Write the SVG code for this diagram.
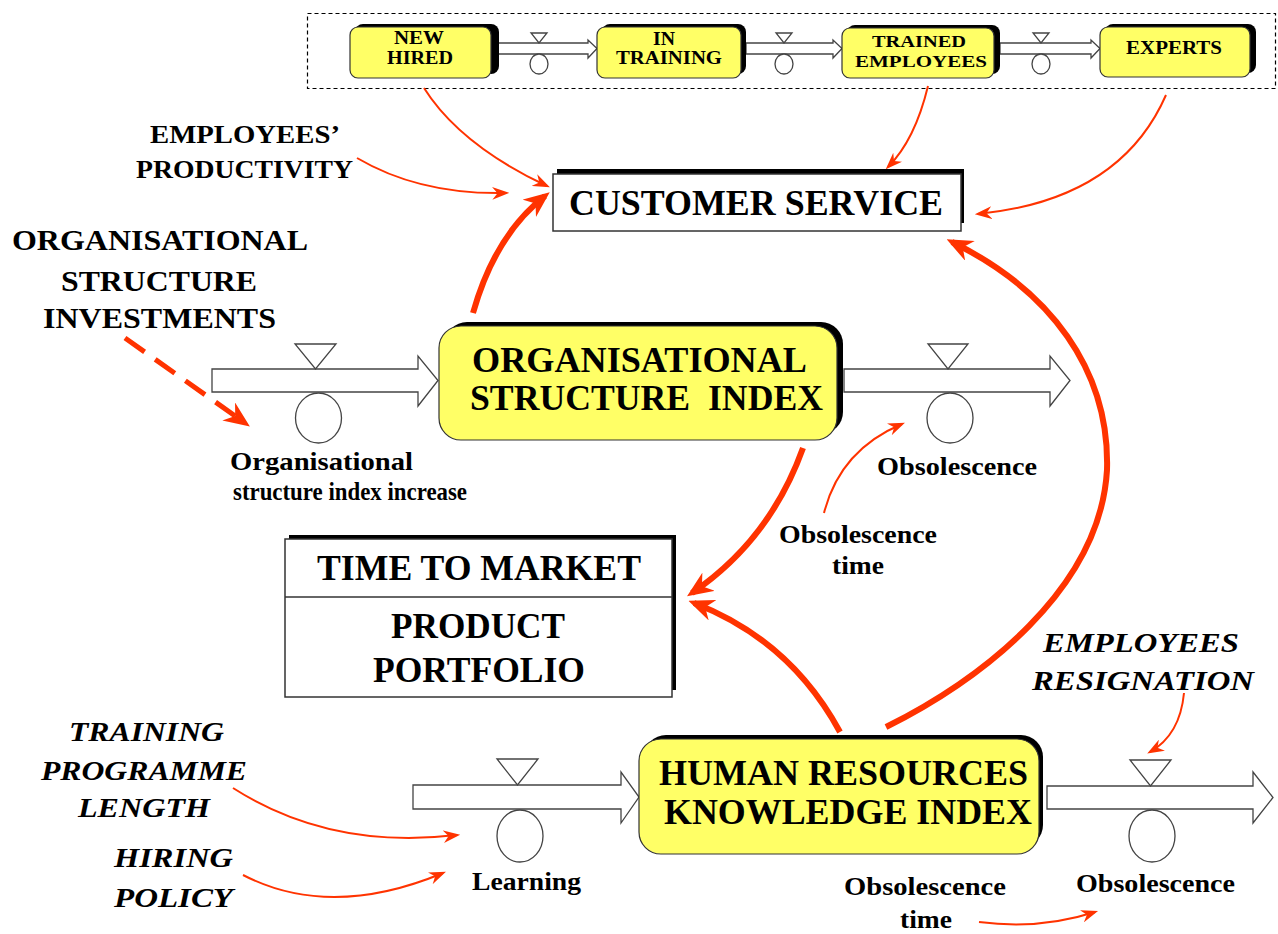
<svg xmlns="http://www.w3.org/2000/svg" width="1278" height="934" viewBox="0 0 1278 934">
<defs>
<style>
.b{font-family:"Liberation Serif","Times New Roman",serif;font-weight:bold;fill:#000}
.i{font-style:italic}
.pipe{fill:#fff;stroke:#444;stroke-width:1.3}
.valve{fill:#fff;stroke:#444;stroke-width:1.3}
.yel{fill:#ffff66;stroke:#333;stroke-width:1.2}
.shd{fill:#000}
.thin{fill:none;stroke:#ff3300;stroke-width:2;marker-end:url(#ah)}
.thick{fill:none;stroke:#ff3300;stroke-width:6;marker-end:url(#AH)}
.dash{fill:none;stroke:#ff3300;stroke-width:5;stroke-dasharray:24 13;marker-end:url(#AH)}
</style>
<marker id="ah" viewBox="0 0 16 12" refX="13" refY="6" markerWidth="17" markerHeight="13" markerUnits="userSpaceOnUse" orient="auto">
<path d="M0,0 L16,6 L0,12 L5,6 Z" fill="#ff3300"/>
</marker>
<marker id="AH" viewBox="0 0 26 22" refX="20" refY="11" markerWidth="26" markerHeight="22" markerUnits="userSpaceOnUse" orient="auto">
<path d="M0,0 L26,11 L0,22 L8,11 Z" fill="#ff3300"/>
</marker>
</defs>
<rect width="1278" height="934" fill="#fff"/>

<g id="workforce-chain">
<rect x="307.5" y="13.5" width="968" height="75" fill="none" stroke="#000" stroke-width="1.2" stroke-dasharray="4 3"/>
<path class="pipe" d="M494,43 L588,43 L588,40 L597,48.5 L588,58 L588,54 L494,54 Z"/>
<path class="pipe" d="M746,43 L833,43 L833,40 L842,48.5 L833,58 L833,54 L746,54 Z"/>
<path class="pipe" d="M1000,43 L1091,43 L1091,40 L1100,48.5 L1091,58 L1091,54 L1000,54 Z"/>
<polygon class="valve" points="531,33 547,33 539,43"/><ellipse class="valve" cx="539" cy="64" rx="9" ry="10"/>
<polygon class="valve" points="776,33 792,33 784,43"/><ellipse class="valve" cx="784" cy="64" rx="9" ry="10"/>
<polygon class="valve" points="1033,33 1049,33 1041,43"/><ellipse class="valve" cx="1041" cy="64" rx="9" ry="10"/>
</g>
<g id="new-hired">
<rect class="shd" x="355" y="24" width="144" height="50" rx="8"/>
<rect class="yel" x="350" y="27" width="141" height="51" rx="8"/>
<text class="b" x="394" y="44" font-size="18" textLength="50" lengthAdjust="spacingAndGlyphs">NEW</text>
<text class="b" x="387" y="64" font-size="18" textLength="66" lengthAdjust="spacingAndGlyphs">HIRED</text>
</g>
<g id="in-training">
<rect class="shd" x="602" y="24" width="144" height="50" rx="8"/>
<rect class="yel" x="597" y="27" width="144" height="51" rx="8"/>
<text class="b" x="653" y="45" font-size="18" textLength="22" lengthAdjust="spacingAndGlyphs">IN</text>
<text class="b" x="616" y="64" font-size="18" textLength="106" lengthAdjust="spacingAndGlyphs">TRAINING</text>
</g>
<g id="trained-employees">
<rect class="shd" x="847" y="25" width="153" height="49" rx="8"/>
<rect class="yel" x="842" y="28" width="152" height="50" rx="8"/>
<text class="b" x="872" y="47" font-size="17" textLength="94" lengthAdjust="spacingAndGlyphs">TRAINED</text>
<text class="b" x="855" y="67" font-size="17" textLength="132" lengthAdjust="spacingAndGlyphs">EMPLOYEES</text>
</g>
<g id="experts">
<rect class="shd" x="1105" y="24" width="151" height="49" rx="8"/>
<rect class="yel" x="1100" y="27" width="150" height="50" rx="8"/>
<text class="b" x="1126" y="54" font-size="18" textLength="96" lengthAdjust="spacingAndGlyphs">EXPERTS</text>
</g>

<g id="employees-productivity">
<text class="b" x="150" y="143" font-size="25" textLength="190" lengthAdjust="spacingAndGlyphs">EMPLOYEES’</text>
<text class="b" x="136" y="178" font-size="25" textLength="217" lengthAdjust="spacingAndGlyphs">PRODUCTIVITY</text>
</g>
<g id="org-structure-investments">
<text class="b" x="12" y="250" font-size="30" textLength="296" lengthAdjust="spacingAndGlyphs">ORGANISATIONAL</text>
<text class="b" x="61" y="291" font-size="30" textLength="196" lengthAdjust="spacingAndGlyphs">STRUCTURE</text>
<text class="b" x="43" y="328" font-size="30" textLength="233" lengthAdjust="spacingAndGlyphs">INVESTMENTS</text>
</g>

<g id="customer-service">
<rect class="shd" x="557" y="169" width="407" height="54"/>
<rect x="553" y="174" width="408" height="57" fill="#fff" stroke="#333" stroke-width="1.5"/>
<text class="b" x="569" y="215" font-size="35" textLength="374" lengthAdjust="spacingAndGlyphs">CUSTOMER SERVICE</text>
</g>

<g id="osi-inflow">
<path class="pipe" d="M212,369 L418,369 L418,356 L438,380.5 L418,406 L418,392 L212,392 Z"/>
<polygon class="valve" points="295,344 336,344 315.5,369"/>
<ellipse class="valve" cx="318.5" cy="418" rx="23" ry="25"/>
<text class="b" x="230" y="470" font-size="25" textLength="183" lengthAdjust="spacingAndGlyphs">Organisational</text>
<text class="b" x="233" y="500" font-size="25" textLength="234" lengthAdjust="spacingAndGlyphs">structure index increase</text>
</g>
<g id="organisational-structure-index">
<rect class="shd" x="445" y="322" width="398" height="112" rx="22"/>
<rect class="yel" x="439" y="326" width="398" height="114" rx="22"/>
<text class="b" x="472" y="372" font-size="35" textLength="335" lengthAdjust="spacingAndGlyphs">ORGANISATIONAL</text>
<text class="b" x="470" y="410" font-size="35" textLength="353" lengthAdjust="spacingAndGlyphs" xml:space="preserve">STRUCTURE  INDEX</text>
</g>
<g id="osi-outflow">
<path class="pipe" d="M844,369 L1050,369 L1050,356 L1070,380.5 L1050,406 L1050,392 L844,392 Z"/>
<polygon class="valve" points="928,344 968,344 948,369"/>
<ellipse class="valve" cx="950" cy="418" rx="23" ry="25"/>
<text class="b" x="877" y="475" font-size="25" textLength="160" lengthAdjust="spacingAndGlyphs">Obsolescence</text>
</g>
<g id="osi-obsolescence-time">
<text class="b" x="779" y="543" font-size="25" textLength="158" lengthAdjust="spacingAndGlyphs">Obsolescence</text>
<text class="b" x="832" y="574" font-size="25" textLength="52" lengthAdjust="spacingAndGlyphs">time</text>
</g>

<g id="time-to-market">
<rect class="shd" x="289" y="535" width="387" height="155"/>
<rect x="285" y="539" width="387" height="158" fill="#fff" stroke="#333" stroke-width="1.5"/>
<line x1="285" y1="597" x2="672" y2="597" stroke="#333" stroke-width="1.5"/>
<text class="b" x="317" y="580" font-size="35" textLength="324" lengthAdjust="spacingAndGlyphs">TIME TO MARKET</text>
<text class="b" x="391" y="638" font-size="35" textLength="174" lengthAdjust="spacingAndGlyphs">PRODUCT</text>
<text class="b" x="373" y="682" font-size="35" textLength="212" lengthAdjust="spacingAndGlyphs">PORTFOLIO</text>
</g>

<g id="employees-resignation">
<text class="b i" x="1043" y="652" font-size="28" textLength="196" lengthAdjust="spacingAndGlyphs">EMPLOYEES</text>
<text class="b i" x="1032" y="690" font-size="28" textLength="222" lengthAdjust="spacingAndGlyphs">RESIGNATION</text>
</g>
<g id="training-programme-length">
<text class="b i" x="69" y="741" font-size="28" textLength="155" lengthAdjust="spacingAndGlyphs">TRAINING</text>
<text class="b i" x="41" y="780" font-size="28" textLength="206" lengthAdjust="spacingAndGlyphs">PROGRAMME</text>
<text class="b i" x="78" y="817" font-size="28" textLength="132" lengthAdjust="spacingAndGlyphs">LENGTH</text>
</g>
<g id="hiring-policy">
<text class="b i" x="114" y="867" font-size="28" textLength="119" lengthAdjust="spacingAndGlyphs">HIRING</text>
<text class="b i" x="114" y="907" font-size="28" textLength="119" lengthAdjust="spacingAndGlyphs">POLICY</text>
</g>

<g id="hrki-inflow">
<path class="pipe" d="M413,785 L621,785 L621,772 L639,797 L621,823 L621,809 L413,809 Z"/>
<polygon class="valve" points="497,759 538,759 517.5,785"/>
<ellipse class="valve" cx="520" cy="836" rx="23" ry="26"/>
<text class="b" x="472" y="890" font-size="25" textLength="109" lengthAdjust="spacingAndGlyphs">Learning</text>
</g>
<g id="human-resources-knowledge-index">
<rect class="shd" x="644" y="735" width="399" height="112" rx="22"/>
<rect class="yel" x="639" y="739" width="400" height="115" rx="22"/>
<text class="b" x="659" y="785" font-size="35" textLength="369" lengthAdjust="spacingAndGlyphs">HUMAN RESOURCES</text>
<text class="b" x="664" y="824" font-size="35" textLength="368" lengthAdjust="spacingAndGlyphs">KNOWLEDGE INDEX</text>
</g>
<g id="hrki-outflow">
<path class="pipe" d="M1047,786 L1253,786 L1253,772 L1273,797.5 L1253,823 L1253,809 L1047,809 Z"/>
<polygon class="valve" points="1130,760 1171,760 1150.5,786"/>
<ellipse class="valve" cx="1152" cy="836" rx="23" ry="26"/>
<text class="b" x="1076" y="892" font-size="25" textLength="159" lengthAdjust="spacingAndGlyphs">Obsolescence</text>
</g>
<g id="hrki-obsolescence-time">
<text class="b" x="844" y="895" font-size="25" textLength="162" lengthAdjust="spacingAndGlyphs">Obsolescence</text>
<text class="b" x="900" y="928" font-size="25" textLength="52" lengthAdjust="spacingAndGlyphs">time</text>
</g>

<g id="connectors">
<path class="thin" d="M424,88 Q460,145 547,186"/>
<path class="thin" d="M357,158 Q420,195 506,193"/>
<path class="thin" d="M928,86 Q915,140 888,167"/>
<path class="thin" d="M1166,95 Q1120,200 978,214"/>
<path class="thick" d="M473,313 Q495,235 545,196"/>
<path class="thick" d="M886,727 C980,680 1100,590 1107,470 C1110,370 1050,290 952,242"/>
<path class="thick" d="M840,732 Q790,640 694,603"/>
<path class="thick" d="M803,448 Q770,540 692,593"/>
<path class="dash" d="M125,338 L245,423"/>
<path class="thin" d="M824,513 Q840,450 902,424"/>
<path class="thin" d="M1184,693 Q1180,735 1150,752"/>
<path class="thin" d="M979,922 Q1040,930 1095,912"/>
<path class="thin" d="M233,788 Q330,850 457,835"/>
<path class="thin" d="M243,875 Q330,920 443,873"/>
</g>
</svg>
